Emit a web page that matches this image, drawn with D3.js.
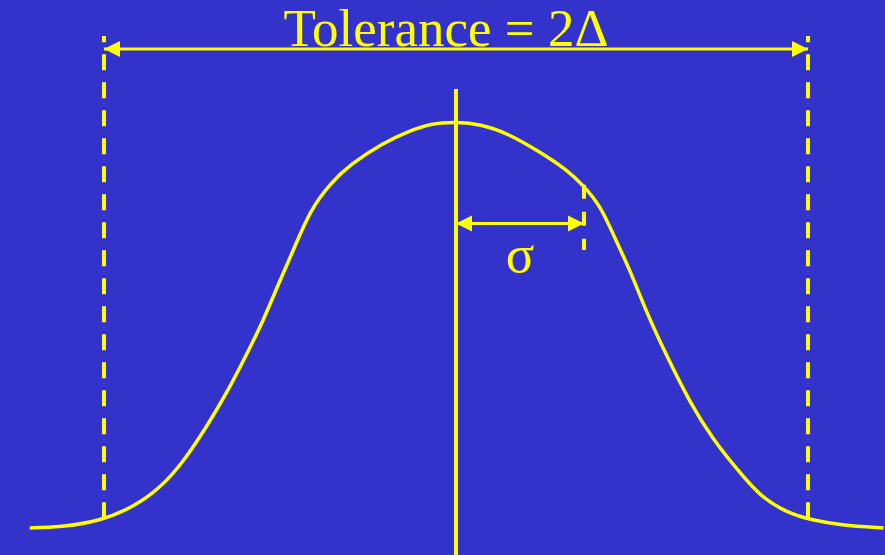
<!DOCTYPE html>
<html>
<head>
<meta charset="utf-8">
<script src="https://cdn.jsdelivr.net/npm/d3@7"></script>
<style>
  body { margin: 0; background: #3333cc; }
  svg { display: block; }
</style>
</head>
<body>
<svg></svg>
<script>
// distribution curve, x in units of sigma, y as fraction of the peak height
const curveX = [-3.33, -3.09, -2.78, -2.52, -2.31, -2.13, -1.95, -1.79, -1.63, -1.51,
  -1.38, -1.27, -1.14, -0.98, -0.83, -0.57, -0.36, -0.20, 0, 0.19,
  0.40, 0.66, 0.87, 0.99, 1.13, 1.23, 1.36, 1.49, 1.65, 1.83,
  2.01, 2.20, 2.38, 2.59, 2.77, 3.0, 3.34];
const curveY = [0.005, 0.007, 0.022, 0.056, 0.103, 0.167, 0.252, 0.336, 0.434, 0.510,
  0.608, 0.686, 0.784, 0.850, 0.895, 0.949, 0.978, 0.996, 1.0, 0.995,
  0.973, 0.926, 0.882, 0.846, 0.794, 0.723, 0.637, 0.532, 0.424, 0.311,
  0.221, 0.147, 0.081, 0.042, 0.025, 0.012, 0.005];

// annotations (same units)
const delta = 2.75;          // tolerance half-width
const sigma = 1;
const limitBottom = 0.029, limitTop = 1.211, toleranceArrowY = 1.179;
const centerTop = 1.081, centerBottom = -0.07;
const sigmaArrowY = 0.751, sigmaTickTop = 0.846, sigmaTickBottom = 0.686;
const titleText = "Tolerance = 2\u0394";
const sigmaText = "\u03c3";

const width = 885, height = 555;
const yellow = "#ffff00";

const svg = d3.select("svg")
  .attr("width", width)
  .attr("height", height);

svg.append("rect")
  .attr("width", width)
  .attr("height", height)
  .attr("fill", "#3333cc");

const x = d3.scaleLinear().domain([-3.5, 3.5]).range([8, 904]);
const y = d3.scaleLinear().domain([0, 1]).range([530, 122]);

// arrow heads
const defs = svg.append("defs");
defs.append("marker")
  .attr("id", "head")
  .attr("markerUnits", "userSpaceOnUse")
  .attr("markerWidth", 17)
  .attr("markerHeight", 17)
  .attr("viewBox", "0 -8.5 17 17")
  .attr("refX", 16)
  .attr("refY", 0)
  .attr("orient", "auto-start-reverse")
  .append("path")
  .attr("d", "M0,-8L16,0L0,8Z")
  .attr("fill", yellow);

// tolerance limits (dashed, drawn from the curve upward)
svg.selectAll(".limit")
  .data([-delta, delta])
  .join("line")
  .attr("class", "limit")
  .attr("x1", d => x(d))
  .attr("x2", d => x(d))
  .attr("y1", y(limitBottom))
  .attr("y2", y(limitTop))
  .attr("stroke", yellow)
  .attr("stroke-width", 4)
  .attr("stroke-dasharray", "16,12");

// tolerance arrow
svg.append("line")
  .attr("x1", x(-delta))
  .attr("x2", x(delta))
  .attr("y1", y(toleranceArrowY))
  .attr("y2", y(toleranceArrowY))
  .attr("stroke", yellow)
  .attr("stroke-width", 3)
  .attr("marker-start", "url(#head)")
  .attr("marker-end", "url(#head)");

// center line
svg.append("line")
  .attr("x1", x(0))
  .attr("x2", x(0))
  .attr("y1", y(centerTop))
  .attr("y2", y(centerBottom))
  .attr("stroke", yellow)
  .attr("stroke-width", 4);

// curve
const pts = curveX.map((d, i) => [d, curveY[i]]);
svg.append("path")
  .datum(pts)
  .attr("fill", "none")
  .attr("stroke", yellow)
  .attr("stroke-width", 3.5)
  .attr("d", d3.line()
    .x(d => x(d[0]))
    .y(d => y(d[1]))
    .curve(d3.curveBasis));

// sigma tick
svg.append("line")
  .attr("x1", x(sigma))
  .attr("x2", x(sigma))
  .attr("y1", y(sigmaTickTop))
  .attr("y2", y(sigmaTickBottom))
  .attr("stroke", yellow)
  .attr("stroke-width", 4)
  .attr("stroke-dasharray", "14,13");

// sigma arrow
svg.append("line")
  .attr("x1", x(0))
  .attr("x2", x(sigma))
  .attr("y1", y(sigmaArrowY))
  .attr("y2", y(sigmaArrowY))
  .attr("stroke", yellow)
  .attr("stroke-width", 3)
  .attr("marker-start", "url(#head)")
  .attr("marker-end", "url(#head)");

// labels
svg.append("text")
  .attr("x", 446)
  .attr("y", 46)
  .attr("text-anchor", "middle")
  .attr("font-family", "'Liberation Serif', 'Times New Roman', serif")
  .attr("font-size", 53)
  .attr("fill", yellow)
  .text(titleText);

svg.append("text")
  .attr("x", x(sigma / 2))
  .attr("y", 272)
  .attr("text-anchor", "middle")
  .attr("font-family", "'Liberation Serif', 'Times New Roman', serif")
  .attr("font-size", 53)
  .attr("fill", yellow)
  .text(sigmaText);
</script>
</body>
</html>
